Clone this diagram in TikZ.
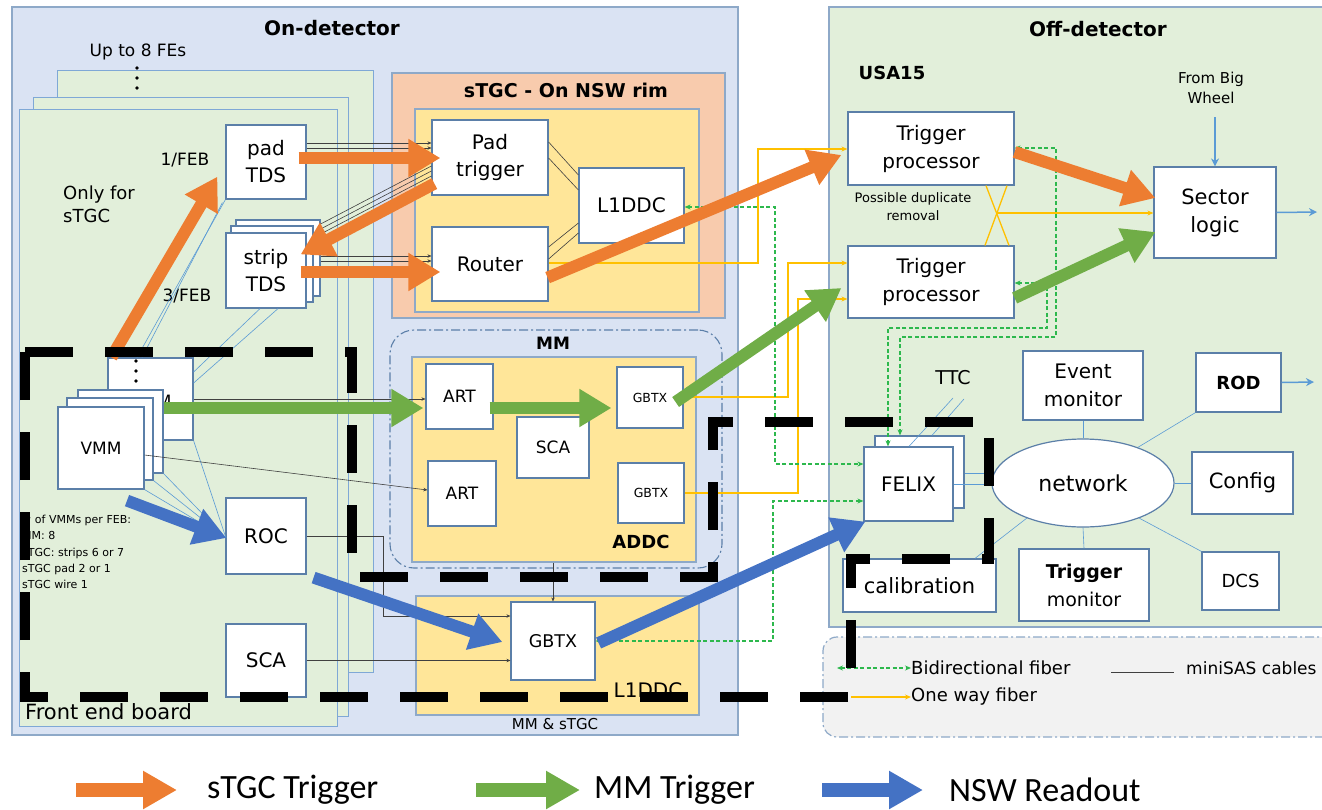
\documentclass[tikz,border=0pt]{standalone}
\usepackage{fontspec}
\setmainfont{DejaVu Sans}
\newfontfamily\keyfont{Carlito}
\usetikzlibrary{arrows.meta,shapes.geometric,fit,calc}

\definecolor{ondetfill}{HTML}{DAE3F3}
\definecolor{framecol}{HTML}{8EA9C8}
\definecolor{febfill}{HTML}{E2EFDA}
\definecolor{febline}{HTML}{7FA8D6}
\definecolor{rimfill}{HTML}{F8CBAD}
\definecolor{cardfill}{HTML}{FFE699}
\definecolor{boxline}{HTML}{5B7FA8}
\definecolor{offfill}{HTML}{E2EFDA}
\definecolor{legfill}{HTML}{F2F2F2}
\definecolor{orangeA}{HTML}{ED7D31}
\definecolor{greenA}{HTML}{70AD47}
\definecolor{blueA}{HTML}{4472C4}
\definecolor{fiberY}{HTML}{FFC000}
\definecolor{fiberG}{HTML}{2DB84D}
\definecolor{thinblue}{HTML}{5B9BD5}
\definecolor{cablecol}{HTML}{404040}

\newcommand{\fsz}[2]{\fontsize{#1}{#2}\selectfont}

\tikzset{
  every node/.style={inner sep=0pt},
  spanbox/.style n args={4}{minimum width={#3-#1}, minimum height={#4-#2},
    at={({(#1+#3)/2},{(#2+#4)/2})}},
  region/.style={draw=framecol, line width=1.2pt},
  sheet/.style={draw=febline, fill=febfill, line width=1pt},
  card/.style={draw=framecol, fill=cardfill, line width=1.2pt},
  rimcard/.style={draw=framecol, fill=rimfill, line width=1.2pt},
  dashdot/.style={dash pattern=on 9pt off 3pt on 2pt off 3pt},
  blk/.style={draw=boxline, fill=white, line width=1.2pt, font=\fsz{20}{27}},
  ml/.style={align=center},
  bigarrow/.style={line width=12pt, -{Triangle[length=32pt,width=36pt]}},
  keyarrow/.style={line width=14pt, -{Triangle[length=34pt,width=36pt]}},
  cable/.style={draw=cablecol, line width=0.6pt, -{Stealth[length=4pt,width=3.5pt]}},
  cableplain/.style={draw=cablecol, line width=0.6pt},
  oneway/.style={draw=fiberY, line width=1.3pt, -{Stealth[length=6pt,width=5pt]}},
  bidir/.style={draw=fiberG, line width=1.3pt, dash pattern=on 4pt off 2.5pt,
    {Stealth[length=6pt,width=5pt]}-{Stealth[length=6pt,width=5pt]}},
  link/.style={draw=thinblue, line width=0.6pt},
  bluearr/.style={draw=thinblue, line width=1.5pt, -{Stealth[length=8pt,width=8pt]}},
  dot/.style={circle, fill=black, minimum size=3.6pt},
}

\begin{document}
\begin{tikzpicture}[x=1pt,y=-1pt]
\useasboundingbox (0,0) rectangle (1322,809);

% ---------- regions ----------
\node[region, fill=ondetfill, fit={(12,7) (738,735)}] (ondet) {};
\node[region, fill=offfill, fit={(829,7) (1345,627)}] (offdet) {};
\node[draw=framecol, fill=legfill, line width=1.2pt, dashdot, rounded corners=14pt,
      fit={(823,637) (1345,737)}] (legbox) {};

\node[font=\bfseries\fsz{20}{24}] (ondettitle) at (332,28) {On-detector};
\node[font=\bfseries\fsz{20}{24}] (offdettitle) at (1098,29) {Off-detector};
\node[font=\bfseries\fsz{18}{22}] (usa) at (892,73) {USA15};

% ---------- front end boards ----------
\node[sheet, fit={(57,70) (373,672)}] (febC) {};
\node[sheet, fit={(33,97) (348,716)}] (febB) {};
\node[sheet, fit={(19,109) (337,726)}] (febA) {};

\node[font=\fsz{17}{20}] (upto) at (138,52) {Up to 8 FEs};
\node[dot] (fd1) at (137,68) {};
\node[dot] (fd2) at (137,78) {};
\node[dot] (fd3) at (137,88) {};

\node[font=\fsz{18}{23}, align=left, anchor=north west] (onlyfor) at (63,186) {Only for\\sTGC};
\node[font=\fsz{17}{20}] (febone) at (185,160) {1/FEB};
\node[font=\fsz{17}{20}] (febthree) at (187,296) {3/FEB};
\node[font=\fsz{21}{24}, anchor=west] (febname) at (25,712) {Front end board};
\node[font=\fsz{11}{16.3}, align=left, anchor=north west] (vmmnote) at (22,515)
  {\# of VMMs per FEB:\\MM: 8\\sTGC: strips 6 or 7\\sTGC pad 2 or 1\\sTGC wire 1};

\node[blk, ml, spanbox={226}{125}{306}{199}] (padtds) {pad\\TDS};
\node[blk, spanbox={236}{220}{320}{296}] (strip3) {};
\node[blk, spanbox={231}{226}{313}{302}] (strip2) {};
\node[blk, ml, spanbox={226}{233}{306}{308}] (strip1) {strip\\TDS};

\node[blk, spanbox={108}{358}{193}{440}] (vmmD) {};
\node[font=\fsz{17}{20}] (vmmDlabel) at (151,401) {VMM};
\node[dot] (vd1) at (136,361) {};
\node[dot] (vd2) at (136,371) {};
\node[dot] (vd3) at (136,381) {};
\node[blk, spanbox={78}{390}{163}{473}] (vmmC) {};
\node[blk, spanbox={67}{398}{153}{480}] (vmmB) {};
\node[blk, spanbox={58}{407}{144}{489}, font=\fsz{17}{20}] (vmmA) {VMM};

\node[blk, spanbox={226}{498}{306}{574}] (roc) {ROC};
\node[blk, spanbox={226}{624}{306}{697}] (scaf) {SCA};

% ---------- sTGC rim ----------
\node[rimcard, fit={(392,73) (725,318)}] (rim) {};
\node[font=\bfseries\fsz{19}{22}] (rimtitle) at (566,90) {sTGC - On NSW rim};
\node[card, fit={(415,109) (699,312)}] (rimcard) {};
\node[blk, ml, spanbox={432}{120}{548}{195}] (padtrig) {Pad\\trigger};
\node[blk, spanbox={432}{227}{548}{301}] (router) {Router};
\node[blk, spanbox={579}{168}{684}{243}] (l1ddct) {L1DDC};

% ---------- MM ----------
\node[draw=boxline, line width=1.1pt, dashdot, rounded corners=24pt,
      fit={(390,330) (722,568)}] (mmgrp) {};
\node[font=\bfseries\fsz{17}{20}] (mmtitle) at (553,343) {MM};
\node[card, fit={(412,357) (696,562)}] (addc) {};
\node[font=\bfseries\fsz{18}{22}] (addctitle) at (641,542) {ADDC};
\node[blk, spanbox={426}{364}{493}{429}, font=\fsz{17}{20}] (art1) {ART};
\node[blk, spanbox={428}{461}{496}{526}, font=\fsz{17}{20}] (art2) {ART};
\node[blk, spanbox={517}{417}{589}{478}, font=\fsz{17}{20}] (scaa) {SCA};
\node[blk, spanbox={617}{367}{683}{428}, font=\fsz{12.5}{15}] (gbtx1) {GBTX};
\node[blk, spanbox={618}{463}{684}{523}, font=\fsz{12.5}{15}] (gbtx2) {GBTX};

\node[card, fit={(416,596) (699,715)}] (l1ddcb) {};
\node[font=\fsz{20}{24}] (l1ddcbtitle) at (648,690) {L1DDC};
\node[font=\fsz{15}{18}] (mmstgc) at (555,724) {MM \& sTGC};
\node[blk, spanbox={511}{602}{595}{680}, font=\fsz{17.5}{20}] (gbtxb) {GBTX};

% ---------- off-detector ----------
\node[blk, ml, spanbox={848}{112}{1014}{185}, font=\fsz{20}{28}] (tp1) {Trigger\\processor};
\node[blk, ml, spanbox={848}{246}{1014}{318}, font=\fsz{20}{28}] (tp2) {Trigger\\processor};
\node[font=\fsz{13}{18}, align=center] (dupl) at (913,207) {Possible duplicate\\removal};
\node[blk, ml, spanbox={1154}{167}{1276}{258}, font=\fsz{21}{28}] (sector) {Sector\\logic};
\node[font=\fsz{15}{20}, align=center] (bigwheel) at (1211,88) {From Big\\Wheel};

\node[font=\fsz{19}{22}] (ttc) at (953,378) {TTC};
\node[blk, spanbox={875}{436}{964}{508}] (felixB) {};
\node[blk, spanbox={864}{447}{953}{521}] (felixA) {FELIX};
\node[draw=boxline, fill=white, line width=1.2pt, ellipse, minimum width=182pt,
      minimum height=88pt, font=\fsz{22}{26}] (net) at (1083,483) {network};
\node[blk, ml, spanbox={1023}{351}{1143}{420}, font=\fsz{20}{28}] (evmon) {Event\\monitor};
\node[blk, spanbox={1196}{353}{1281}{412}, font=\bfseries\fsz{18}{22}] (rod) {ROD};
\node[blk, spanbox={1192}{452}{1293}{514}, font=\fsz{21}{24}] (config) {Config};
\node[blk, ml, spanbox={1019}{549}{1149}{621}, font=\fsz{19}{28}] (trigmon) {\textbf{Trigger}\\monitor};
\node[blk, spanbox={1202}{552}{1279}{610}, font=\fsz{18}{22}] (dcs) {DCS};
\node[blk, spanbox={843}{559}{996}{612}, font=\fsz{21}{24}] (calib) {calibration};

% ---------- legend ----------
\node[font=\fsz{18}{22}, anchor=west] (bidirtxt) at (911,668) {Bidirectional fiber};
\node[font=\fsz{18}{22}, anchor=west] (onewaytxt) at (911,697) {One way fiber};
\node[font=\fsz{17}{22}, anchor=west] (minisastxt) at (1186,668) {miniSAS cables};
\coordinate (legB) at (837,668);
\coordinate (legY) at (851,697);
\coordinate (legC) at (1111,672);
\draw[bidir] (legB) -- (bidirtxt.west);
\draw[oneway] (legY) -- (onewaytxt.west);
\draw[cableplain] (legC) -- ($(minisastxt.west)+(-12,4)$);

% ---------- thin links inside front end boards ----------
\draw[link] (padtds.south west) -- (vmmD.north -| 137,0);
\draw[link] ($(padtds.south west)+(-3,3)$) -- (vmmD.north -| 142,0);
\draw[link] (strip1.south -| 260,0) -- (vmmD.east |- 0,372);
\draw[link] (strip1.south -| 278,0) -- (vmmD.east |- 0,383);
\coordinate (rocin) at (226,538);
\draw[link] (vmmA.south east) -- (rocin);
\draw[link] (vmmB.south east) -- (rocin);
\draw[link] (vmmC.south east) -- (rocin);
\draw[link] (vmmD.south east) -- (rocin);

% ---------- miniSAS cables ----------
\draw[cable] (padtds.east |- 0,143) -- (padtrig.west |- 0,143);
\draw[cable] (padtds.east |- 0,148) -- (padtrig.west |- 0,148);
\draw[cableplain] (padtrig.west |- 0,166) -- (strip3.east |- 0,224);
\draw[cableplain] (padtrig.west |- 0,171) -- (strip3.east |- 0,229);
\draw[cableplain] (padtrig.west |- 0,176) -- (strip3.east |- 0,234);
\draw[cable] (strip3.east |- 0,256) -- (router.west |- 0,256);
\draw[cable] (strip3.east |- 0,261) -- (router.west |- 0,261);
\draw[cableplain] (padtrig.east |- 0,142) -- (l1ddct.west |- 0,175);
\draw[cableplain] (padtrig.east |- 0,158) -- (l1ddct.west |- 0,190);
\draw[cableplain] (router.east |- 0,247) -- (l1ddct.west |- 0,223);
\draw[cableplain] (router.east |- 0,259) -- (l1ddct.west |- 0,233);
\draw[cable] (vmmD.east |- 0,399) -- (art1.west |- 0,399);
\draw[cable] (vmmA.east |- 0,455) -- (art2.west |- 0,490);
\draw[cable] (roc.east) -- (383,536) -- (383,616) -- (gbtxb.west |- 0,616);
\draw[cable] (scaf.east) -- (gbtxb.west |- scaf.east);
\draw[cable] (addc.south -| gbtxb.north) -- (gbtxb.north);

% ---------- network links ----------
\draw[link] (felixB.east |- 0,473) -- (net.west |- 0,473);
\draw[link] (felixA.east |- 0,484) -- (net.west |- 0,484);
\draw[link] (evmon.south) -- (net.north);
\draw[link] (trigmon.north) -- (net.south);
\draw[link] (net.east) -- (config.west);
\draw[link] (net.33) -- (rod.south west);
\draw[link] (net.-32) -- (dcs.north west);
\draw[link] (net.212) -- (calib.north -| 975,0);
\coordinate (ttcA) at (953,398);
\coordinate (ttcB) at (964,399);
\draw[link] (ttcA) -- (felixA.north -| 909,0);
\draw[link] (ttcB) -- (felixB.north -| 932,0);

\coordinate (slout) at (1317,212);
\coordinate (rodout) at (1314,382);
\draw[bluearr] (sector.north |- 0,117) -- (sector.north);
\draw[bluearr] (sector.east) -- (slout);
\draw[bluearr] (rod.east) -- (rodout);

% ---------- one way fibers ----------
\draw[oneway] (router.east |- 0,263) -- (758,263) -- (758,149) -- (tp1.west |- 0,149);
\draw[oneway] (gbtx1.east |- 0,397) -- (788,397) -- (788,263) -- (tp2.west |- 0,263);
\draw[oneway] (gbtx2.east) -- (798,493) -- (798,299) -- (tp2.west |- 0,299);
\draw[fiberY, line width=1.3pt] (tp1.south -| 986,0) -- (tp2.north -| 1009,0);
\draw[fiberY, line width=1.3pt] (tp1.south -| 1007,0) -- (tp2.north -| 985,0);
\coordinate (xcross) at (997,213);
\draw[oneway] (xcross) -- (sector.west |- xcross);

% ---------- bidirectional fibers ----------
\draw[bidir] (l1ddct.east |- 0,207) -- (775,207) -- (775,464) -- (felixA.west |- 0,464);
\draw[bidir] (gbtxb.east |- 0,641) -- (773,641) -- (773,501) -- (felixA.west |- 0,501);
\draw[bidir] (tp1.east |- 0,148) -- (1056,148) -- (1056,337) -- (900,337) -- (felixB.north -| 900,0);
\draw[bidir] (tp2.east |- 0,283) -- (1047,283) -- (1047,328) -- (888,328) -- (felixA.north -| 888,0);

% ---------- data paths ----------
\draw[bigarrow, orangeA] ($(vmmD.north west)+(4,0)$) -- ($(padtds.south west)+(-8,-23)$);
\draw[bigarrow, orangeA] ($(padtds.east)+(-8,-4)$) -- ($(padtrig.west)+(9,0.5)$);
\draw[bigarrow, orangeA] ($(padtrig.south west)+(3,-12)$) -- ($(strip1.north east)+(-6,22)$);
\draw[bigarrow, orangeA] ($(strip1.east)+(-6,1.5)$) -- ($(router.west)+(9,8)$);
\draw[bigarrow, orangeA] ($(router.south east)+(-1,-24)$) -- ($(tp1.west)+(-6,6.5)$);
\draw[bigarrow, orangeA] ($(tp1.east)+(0,3.5)$) -- ($(sector.west)+(2,-14.5)$);

\draw[bigarrow, greenA] ($(vmmC.east)+(0,-23.5)$) -- ($(art1.west)+(-2,11.5)$);
\draw[bigarrow, greenA] ($(art1.east)+(-4,11.5)$) -- ($(gbtx1.west)+(-5,10.5)$);
\draw[bigarrow, greenA] ($(gbtx1.east)+(-8,4.5)$) -- ($(tp2.west)+(-6,6)$);
\draw[bigarrow, greenA] ($(tp2.east)+(0,16)$) -- ($(sector.west)+(2,19.5)$);

\draw[bigarrow, blueA] ($(vmmA.south)+(26,11)$) -- ($(roc.west)+(1,2)$);
\draw[bigarrow, blueA] ($(roc.south east)+(7,3)$) -- ($(gbtxb.west)+(-8,1)$);
\draw[bigarrow, blueA] ($(gbtxb.east)+(3,2)$) -- ($(felixA.south west)+(2,0)$);

% ---------- heavy dashed outline ----------
\draw[black, line width=10pt, dash pattern=on 48pt off 32pt]
  (25,352) -- (352,352) -- (352,577) -- (713,577) -- (713,422) -- (989,422)
  -- (989,559) -- (851,559) -- (851,697) -- (25,697) -- cycle;

% ---------- key ----------
\node[font=\keyfont\fsz{34}{40}, anchor=west] (keyO) at (207,790) {sTGC Trigger};
\node[font=\keyfont\fsz{34}{40}, anchor=west] (keyG) at (594,790) {MM Trigger};
\node[font=\keyfont\fsz{34}{40}, anchor=west] (keyB) at (949,790) {NSW Readout};
\coordinate (koS) at (76,790);
\coordinate (kgS) at (476,790);
\coordinate (kbS) at (822,790);
\draw[keyarrow, orangeA] (koS) -- ($(keyO.west)+(-30,0)$);
\draw[keyarrow, greenA] (kgS) -- ($(keyG.west)+(-14,0)$);
\draw[keyarrow, blueA] (kbS) -- ($(keyB.west)+(-26,0)$);
\end{tikzpicture}
\end{document}
